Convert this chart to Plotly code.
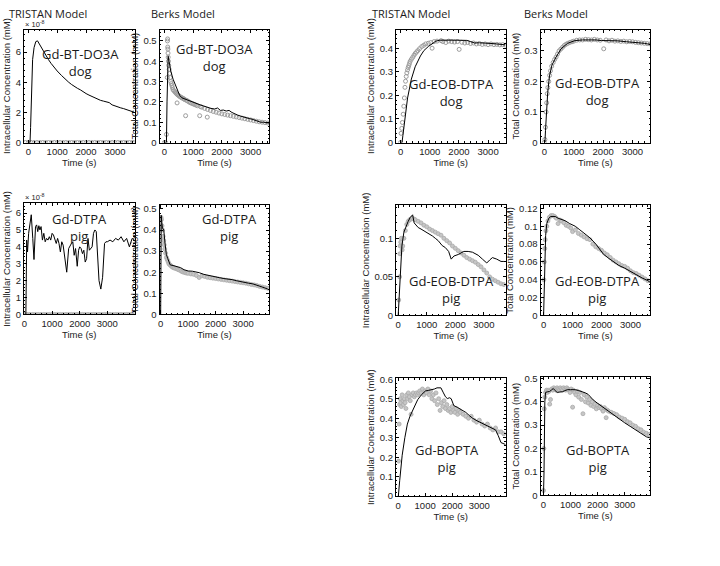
import plotly.graph_objects as go

# ---------------- DATA ----------------
# Panel A: TRISTAN, Gd-BT-DO3A dog (values in units of 1e-8 mM)
A_line_t = [0, 60, 80, 110, 150, 200, 260, 320, 380, 450, 520, 600, 700, 790, 900, 1000, 1150, 1300, 1400, 1500, 1600, 1700, 1800, 1900, 2000, 2100, 2200, 2300, 2400, 2500, 2600, 2700, 2800, 2900, 3000, 3100, 3200, 3300, 3400, 3500, 3600, 3650]
A_line_v = [0, 0, 1.0, 3.5, 5.5, 6.3, 6.7, 6.75, 6.55, 6.25, 6.05, 5.8, 5.5, 5.25, 4.95, 4.75, 4.45, 4.15, 4.0, 3.85, 3.7, 3.6, 3.5, 3.35, 3.25, 3.15, 3.05, 2.95, 2.87, 2.8, 2.75, 2.72, 2.65, 2.5, 2.42, 2.35, 2.3, 2.25, 2.18, 2.12, 2.05, 2.02]
A_obs_t = [-100, 0, 100, 200, 300, 400, 500, 600, 700, 800, 900, 1000, 1100, 1200, 1300, 1400, 1500, 1600, 1700, 1800, 1900, 2000, 2100, 2200, 2300, 2400, 2500, 2600, 2700, 2800, 2900, 3000, 3100, 3200, 3300, 3400, 3500, 3600, 3650]
A_obs_v = [0] * len(A_obs_t)

# Panel B: Berks, Gd-BT-DO3A dog
B_line_t = [0, 70, 90, 110, 130, 160, 220, 300, 440, 530, 610, 700, 830, 950, 1100, 1250, 1360, 1500, 1620, 1750, 1850, 1950, 2050, 2150, 2250, 2350, 2450, 2550, 2650, 2750, 2850, 2950, 3050, 3150, 3250, 3350, 3450, 3550, 3650]
B_line_v = [0, 0, 0.2, 0.38, 0.425, 0.40, 0.352, 0.312, 0.259, 0.232, 0.22, 0.215, 0.205, 0.2, 0.192, 0.185, 0.18, 0.172, 0.168, 0.165, 0.17, 0.158, 0.16, 0.155, 0.158, 0.148, 0.14, 0.135, 0.13, 0.125, 0.12, 0.118, 0.115, 0.11, 0.105, 0.10, 0.10, 0.098, 0.095]
B_obs_t = [0, 40, 70, 100, 105, 110, 115, 120, 125, 130, 140, 150, 165, 180, 200, 220, 240, 260, 280, 300, 330, 360, 390, 420, 440, 460, 490, 520, 550, 580, 610, 640, 670, 700, 737, 760, 800, 850, 900, 950, 1000, 1050, 1100, 1150, 1228, 1250, 1300, 1400, 1491, 1500, 1600, 1700, 1800, 1900, 2000, 2100, 2200, 2300, 2400, 2500, 2600, 2700, 2800, 2900, 3000, 3100, 3200, 3300, 3400, 3500, 3600]
B_obs_v = [0.0, 0.0, 0.04, 0.32, 0.5, 0.51, 0.47, 0.46, 0.44, 0.42, 0.4, 0.38, 0.36, 0.34, 0.32, 0.3, 0.29, 0.28, 0.27, 0.26, 0.255, 0.25, 0.245, 0.24, 0.195, 0.235, 0.232, 0.228, 0.225, 0.222, 0.22, 0.218, 0.215, 0.212, 0.132, 0.208, 0.205, 0.2, 0.196, 0.193, 0.19, 0.187, 0.184, 0.181, 0.132, 0.177, 0.174, 0.168, 0.125, 0.163, 0.158, 0.153, 0.149, 0.145, 0.141, 0.138, 0.135, 0.132, 0.129, 0.126, 0.123, 0.12, 0.117, 0.114, 0.111, 0.108, 0.105, 0.102, 0.1, 0.098, 0.096]

# Panel C: TRISTAN, Gd-EOB-DTPA dog
C_line_t = [0, 50, 80, 150, 240, 370, 500, 680, 800, 950, 1100, 1210, 1350, 1480, 1700, 1900, 2100, 2270, 2400, 2540, 2700, 2900, 3100, 3300, 3500, 3600]
C_line_v = [0, 0, 0.03, 0.097, 0.189, 0.269, 0.321, 0.367, 0.39, 0.407, 0.422, 0.43, 0.434, 0.435, 0.434, 0.434, 0.433, 0.433, 0.428, 0.422, 0.423, 0.42, 0.42, 0.418, 0.415, 0.414]
C_obs_t = [0, 18, 40, 62, 90, 110, 130, 150, 170, 194, 215, 239, 260, 283, 305, 327, 370, 415, 460, 504, 550, 593, 650, 725, 790, 858, 950, 1035, 1080, 1150, 1250, 1389, 1450, 1550, 1650, 1750, 1850, 1950, 2008, 2100, 2200, 2300, 2400, 2500, 2600, 2700, 2800, 2900, 3000, 3100, 3200, 3300, 3400, 3500, 3600]
C_obs_v = [0.0, 0.039, 0.06, 0.085, 0.12, 0.154, 0.189, 0.234, 0.26, 0.28, 0.295, 0.308, 0.318, 0.326, 0.335, 0.344, 0.353, 0.361, 0.37, 0.378, 0.384, 0.39, 0.398, 0.407, 0.412, 0.418, 0.421, 0.424, 0.4, 0.428, 0.43, 0.432, 0.428, 0.424, 0.43, 0.428, 0.426, 0.428, 0.395, 0.425, 0.422, 0.424, 0.42, 0.422, 0.418, 0.42, 0.416, 0.418, 0.415, 0.418, 0.415, 0.416, 0.414, 0.415, 0.413]

# Panel D: Berks, Gd-EOB-DTPA dog
D_line_t = [0, 20, 40, 70, 115, 175, 260, 400, 570, 790, 1050, 1300, 1500, 1750, 1950, 2200, 2500, 2800, 3000, 3200, 3400, 3500, 3600]
D_line_v = [0, 0, 0.04, 0.093, 0.164, 0.218, 0.254, 0.28, 0.307, 0.325, 0.334, 0.336, 0.337, 0.336, 0.334, 0.334, 0.333, 0.33, 0.329, 0.327, 0.325, 0.323, 0.322]
D_obs_t = [0, 20, 40, 60, 80, 100, 120, 150, 180, 210, 250, 300, 350, 400, 450, 500, 560, 620, 680, 740, 800, 870, 940, 1000, 1100, 1200, 1300, 1400, 1500, 1600, 1700, 1800, 1900, 2020, 2100, 2200, 2300, 2400, 2500, 2600, 2700, 2800, 2900, 3000, 3100, 3200, 3300, 3400, 3500, 3600]
D_obs_v = [0.0, 0.01, 0.05, 0.1, 0.13, 0.16, 0.18, 0.2, 0.22, 0.235, 0.25, 0.262, 0.272, 0.28, 0.29, 0.3, 0.306, 0.312, 0.318, 0.322, 0.325, 0.328, 0.33, 0.332, 0.335, 0.336, 0.336, 0.338, 0.337, 0.336, 0.338, 0.336, 0.335, 0.307, 0.336, 0.333, 0.335, 0.332, 0.333, 0.331, 0.332, 0.33, 0.331, 0.33, 0.328, 0.327, 0.326, 0.325, 0.324, 0.323]

# Panel E: TRISTAN, Gd-DTPA pig (units of 1e-8 mM)
E_line_t = [0, 50, 80, 110, 150, 245, 300, 344, 400, 440, 480, 520, 560, 600, 650, 700, 750, 800, 850, 900, 950, 1000, 1050, 1100, 1150, 1200, 1250, 1300, 1350, 1400, 1450, 1530, 1600, 1650, 1700, 1750, 1800, 1850, 1910, 1960, 2000, 2050, 2100, 2150, 2200, 2250, 2300, 2350, 2400, 2450, 2500, 2550, 2600, 2650, 2700, 2765, 2830, 2900, 2950, 3000, 3100, 3200, 3300, 3400, 3500, 3600, 3700, 3800, 3900, 3990]
E_line_v = [0, 0, 4.4, 3.7, 4.8, 5.9, 4.5, 3.25, 5.2, 5.3, 4.9, 5.25, 5.0, 5.2, 4.4, 4.8, 4.3, 4.5, 4.4, 4.6, 4.4, 4.8, 4.7, 4.4, 4.2, 4.5, 4.2, 3.7, 4.3, 4.1, 3.5, 2.5, 3.9, 4.1, 4.2, 4.3, 3.5, 3.9, 2.85, 3.8, 4.0, 3.9, 3.6, 3.8, 3.1, 3.3, 4.5, 3.8, 3.9, 4.0, 4.8, 5.0, 4.9, 3.5, 2.0, 1.5, 2.2, 4.2, 4.3, 4.3, 4.4, 4.3, 4.5, 4.4, 4.6, 4.3, 4.5, 4.0, 4.5, 4.4]
E_obs_t = [-20, 0, 100, 200, 300, 400, 500, 600, 700, 800, 900, 1000, 1100, 1200, 1300, 1400, 1500, 1600, 1700, 1800, 1900, 2000, 2100, 2200, 2300, 2400, 2500, 2600, 2700, 2800, 2900, 3000, 3100, 3200, 3300, 3400, 3500, 3600, 3700, 3800, 3900, 3990]
E_obs_v = [0] * len(E_obs_t)

# Panel F: Berks, Gd-DTPA pig
F_line_t = [0, 10, 20, 40, 65, 113, 160, 206, 254, 347, 450, 535, 620, 723, 850, 1005, 1150, 1287, 1400, 1569, 1700, 1850, 2000, 2150, 2300, 2450, 2600, 2750, 2900, 3050, 3200, 3350, 3500, 3650, 3800, 3900]
F_line_v = [0, 0.3, 0.47, 0.44, 0.41, 0.40, 0.336, 0.285, 0.266, 0.235, 0.232, 0.229, 0.225, 0.222, 0.212, 0.206, 0.205, 0.203, 0.198, 0.19, 0.186, 0.18, 0.176, 0.174, 0.17, 0.168, 0.165, 0.16, 0.155, 0.152, 0.148, 0.145, 0.14, 0.132, 0.125, 0.12]
F_obs_t = [0, 15, 30, 50, 70, 90, 110, 130, 150, 180, 210, 240, 270, 300, 340, 380, 420, 460, 500, 550, 600, 650, 700, 750, 800, 850, 900, 950, 1000, 1100, 1200, 1300, 1400, 1500, 1600, 1700, 1800, 1900, 2000, 2100, 2200, 2300, 2400, 2500, 2600, 2700, 2800, 2900, 3000, 3100, 3200, 3300, 3400, 3500, 3600, 3700, 3800, 3900]
F_obs_v = [0.4, 0.46, 0.45, 0.42, 0.4, 0.37, 0.35, 0.33, 0.31, 0.29, 0.27, 0.26, 0.25, 0.24, 0.235, 0.23, 0.225, 0.222, 0.22, 0.218, 0.215, 0.212, 0.21, 0.205, 0.202, 0.2, 0.198, 0.196, 0.195, 0.192, 0.19, 0.185, 0.175, 0.183, 0.18, 0.176, 0.174, 0.172, 0.17, 0.168, 0.166, 0.164, 0.162, 0.16, 0.158, 0.156, 0.154, 0.152, 0.15, 0.148, 0.145, 0.142, 0.14, 0.137, 0.133, 0.13, 0.127, 0.124]

# Panel G: TRISTAN, Gd-EOB-DTPA pig
G_line_t = [0, 30, 80, 130, 200, 280, 350, 420, 505, 560, 620, 700, 800, 900, 1000, 1100, 1200, 1300, 1400, 1540, 1650, 1766, 1856, 1950, 2100, 2297, 2450, 2600, 2800, 2950, 3027, 3100, 3207, 3300, 3450, 3600, 3700]
G_line_v = [0, 0.02, 0.06, 0.09, 0.108, 0.117, 0.122, 0.127, 0.1305, 0.12, 0.117, 0.114, 0.112, 0.11, 0.108, 0.105, 0.103, 0.1, 0.097, 0.0906, 0.088, 0.083, 0.073, 0.077, 0.079, 0.083, 0.083, 0.082, 0.078, 0.073, 0.07, 0.068, 0.072, 0.075, 0.073, 0.07, 0.07]
G_obs_t = [20, 50, 60, 70, 90, 110, 140, 160, 200, 250, 300, 350, 400, 450, 500, 550, 600, 700, 800, 900, 1000, 1100, 1200, 1300, 1400, 1500, 1600, 1700, 1800, 1900, 2000, 2100, 2200, 2300, 2400, 2500, 2600, 2700, 2800, 2900, 3000, 3100, 3200, 3300, 3400, 3500, 3600, 3700]
G_obs_v = [0.02, 0.05, 0.08, 0.09, 0.095, 0.1, 0.085, 0.09, 0.1, 0.11, 0.118, 0.122, 0.124, 0.125, 0.126, 0.125, 0.124, 0.122, 0.12, 0.117, 0.115, 0.112, 0.11, 0.108, 0.106, 0.104, 0.1, 0.097, 0.094, 0.09, 0.087, 0.084, 0.081, 0.078, 0.075, 0.073, 0.071, 0.069, 0.066, 0.063, 0.059, 0.055, 0.05, 0.047, 0.045, 0.043, 0.041, 0.04]

# Panel H: Berks, Gd-EOB-DTPA pig
H_line_t = [0, 20, 40, 70, 110, 180, 250, 400, 500, 738, 900, 1093, 1250, 1449, 1600, 1804, 1950, 2071, 2250, 2427, 2600, 2800, 3000, 3200, 3400, 3600, 3680]
H_line_v = [0, 0.04, 0.0624, 0.0895, 0.103, 0.109, 0.111, 0.111, 0.109, 0.1063, 0.103, 0.1, 0.096, 0.091, 0.087, 0.08, 0.074, 0.0685, 0.064, 0.0595, 0.056, 0.053, 0.049, 0.046, 0.042, 0.039, 0.037]
H_obs_t = [10, 25, 40, 55, 80, 110, 150, 200, 260, 320, 380, 440, 500, 560, 620, 700, 780, 860, 940, 1000, 1100, 1200, 1300, 1400, 1500, 1600, 1700, 1800, 1900, 2000, 2100, 2200, 2300, 2400, 2500, 2600, 2700, 2800, 2900, 3000, 3100, 3200, 3300, 3400, 3500, 3600]
H_obs_v = [0.04, 0.06, 0.075, 0.085, 0.095, 0.1, 0.106, 0.11, 0.112, 0.112, 0.111, 0.109, 0.103, 0.107, 0.106, 0.104, 0.101, 0.1, 0.098, 0.094, 0.096, 0.092, 0.09, 0.088, 0.086, 0.085, 0.08, 0.077, 0.075, 0.073, 0.07, 0.068, 0.065, 0.062, 0.06, 0.058, 0.056, 0.055, 0.053, 0.05, 0.048, 0.047, 0.045, 0.043, 0.041, 0.039]

# Panel I: TRISTAN, Gd-BOPTA pig
I_line_t = [0, 10, 60, 152, 250, 343, 440, 533, 630, 724, 860, 1010, 1130, 1248, 1340, 1438, 1581, 1676, 1750, 1819, 1900, 1962, 2057, 2200, 2343, 2500, 2628, 2750, 2914, 3050, 3200, 3350, 3486, 3600, 3700, 3800, 3970]
I_line_v = [0, 0, 0.08, 0.21, 0.3, 0.37, 0.41, 0.44, 0.47, 0.495, 0.52, 0.54, 0.543, 0.545, 0.55, 0.556, 0.556, 0.53, 0.51, 0.501, 0.505, 0.5, 0.465, 0.455, 0.443, 0.43, 0.414, 0.4, 0.387, 0.378, 0.37, 0.36, 0.349, 0.34, 0.31, 0.275, 0.265]
I_obs_t = [20, 40, 60, 80, 100, 120, 150, 180, 200, 230, 260, 290, 320, 350, 380, 420, 450, 480, 520, 560, 600, 640, 680, 720, 760, 800, 850, 900, 950, 1000, 1050, 1100, 1150, 1200, 1250, 1300, 1350, 1400, 1450, 1500, 1550, 1600, 1650, 1700, 1750, 1800, 1850, 1900, 1950, 2000, 2050, 2100, 2150, 2200, 2250, 2300, 2400, 2500, 2600, 2700, 2800, 2900, 3000, 3100, 3200, 3300, 3400, 3500, 3600, 3700, 3800, 3900]
I_obs_v = [0.18, 0.37, 0.47, 0.5, 0.48, 0.46, 0.52, 0.49, 0.47, 0.5, 0.48, 0.45, 0.52, 0.5, 0.53, 0.51, 0.49, 0.42, 0.52, 0.53, 0.51, 0.52, 0.53, 0.52, 0.53, 0.54, 0.53, 0.55, 0.52, 0.54, 0.53, 0.55, 0.52, 0.54, 0.5, 0.52, 0.49, 0.53, 0.47, 0.5, 0.44, 0.48, 0.46, 0.49, 0.45, 0.47, 0.44, 0.45, 0.43, 0.46, 0.44, 0.43, 0.45, 0.42, 0.44, 0.43, 0.42, 0.41, 0.4, 0.41, 0.39, 0.38, 0.39, 0.37, 0.36, 0.37, 0.35, 0.34, 0.35, 0.33, 0.33, 0.32]

# Panel J: Berks, Gd-BOPTA pig
J_line_t = [0, 20, 50, 76, 150, 219, 290, 362, 430, 505, 600, 695, 790, 886, 1000, 1171, 1300, 1457, 1550, 1648, 1740, 1838, 1980, 2124, 2270, 2410, 2600, 2800, 3000, 3200, 3400, 3600, 3800, 3940]
J_line_v = [0, 0.1, 0.4, 0.44, 0.443, 0.444, 0.45, 0.457, 0.448, 0.44, 0.442, 0.443, 0.448, 0.452, 0.452, 0.452, 0.448, 0.443, 0.438, 0.432, 0.42, 0.408, 0.395, 0.383, 0.37, 0.359, 0.34, 0.325, 0.31, 0.295, 0.28, 0.265, 0.25, 0.245]
J_obs_t = [0, 15, 30, 50, 80, 110, 140, 170, 200, 230, 260, 300, 340, 380, 420, 460, 500, 540, 580, 620, 660, 700, 740, 780, 820, 860, 900, 940, 980, 1020, 1076, 1100, 1150, 1200, 1250, 1300, 1350, 1400, 1457, 1500, 1550, 1600, 1650, 1700, 1750, 1800, 1850, 1900, 1950, 2000, 2050, 2100, 2150, 2200, 2250, 2314, 2350, 2400, 2500, 2600, 2700, 2800, 2900, 3000, 3100, 3200, 3300, 3400, 3500, 3600, 3700, 3800, 3900]
J_obs_v = [0.02, 0.2, 0.37, 0.42, 0.44, 0.45, 0.44, 0.45, 0.445, 0.39, 0.41, 0.455, 0.45, 0.46, 0.455, 0.45, 0.46, 0.455, 0.45, 0.46, 0.455, 0.45, 0.46, 0.455, 0.45, 0.46, 0.455, 0.45, 0.44, 0.455, 0.377, 0.45, 0.44, 0.43, 0.445, 0.42, 0.44, 0.41, 0.349, 0.43, 0.4, 0.42, 0.395, 0.41, 0.385, 0.4, 0.38, 0.39, 0.37, 0.385, 0.375, 0.38, 0.37, 0.36, 0.375, 0.332, 0.365, 0.36, 0.355, 0.35, 0.345, 0.335, 0.33, 0.325, 0.315, 0.31, 0.3, 0.295, 0.285, 0.28, 0.27, 0.265, 0.26]

column_titles = ["TRISTAN Model", "Berks Model", "TRISTAN Model", "Berks Model"]
intra_title = "Intracellular Concentration (mM)"
total_title = "Total Concentration (mM)"
time_title = "Time (s)"

# ---------------- LAYOUT ----------------
W, H = 720, 566
# pixel boxes (left, right, top, bottom)
panels = [
    dict(box=(22, 133, 25, 140), lt=A_line_t, lv=A_line_v, ot=A_obs_t, ov=A_obs_v, xr=[-150, 3680], yr=[0, 7.5], dy=2, my=0.4, yt=intra_title, lab="Gd-BT-DO3A<br>dog", lxy=(79, 59), exp=True, open=True),
    dict(box=(158, 268, 25, 140), lt=B_line_t, lv=B_line_v, ot=B_obs_t, ov=B_obs_v, xr=[-170, 3650], yr=[0, 0.556], dy=0.1, my=0.02, yt=total_title, lab="Gd-BT-DO3A<br>dog", lxy=(213, 53), exp=False, open=True),
    dict(box=(395, 505, 25, 140), lt=C_line_t, lv=C_line_v, ot=C_obs_t, ov=C_obs_v, xr=[-160, 3600], yr=[0, 0.479], dy=0.1, my=0.02, yt=intra_title, lab="Gd-EOB-DTPA<br>dog", lxy=(451, 89), exp=False, open=True),
    dict(box=(540, 650, 25, 140), lt=D_line_t, lv=D_line_v, ot=D_obs_t, ov=D_obs_v, xr=[-130, 3600], yr=[0, 0.37], dy=0.1, my=0.02, yt=total_title, lab="Gd-EOB-DTPA<br>dog", lxy=(597, 88), exp=False, open=True),
    dict(box=(22, 133, 202, 315), lt=E_line_t, lv=E_line_v, ot=E_obs_t, ov=E_obs_v, xr=[-20, 3990], yr=[0, 6.57], dy=1, my=0.2, yt=intra_title, lab="Gd-DTPA<br>pig", lxy=(78, 226), exp=True, open=False),
    dict(box=(158, 268, 204, 315), lt=F_line_t, lv=F_line_v, ot=F_obs_t, ov=F_obs_v, xr=[-40, 3950], yr=[0, 0.517], dy=0.1, my=0.02, yt=total_title, lab="Gd-DTPA<br>pig", lxy=(228, 226), exp=False, open=False),
    dict(box=(395, 505, 204, 316), lt=G_line_t, lv=G_line_v, ot=G_obs_t, ov=G_obs_v, xr=[-80, 3760], yr=[0, 0.1427], dy=0.05, my=0.01, yt=intra_title, lab="Gd-EOB-DTPA<br>pig", lxy=(451, 290), exp=False, open=False),
    dict(box=(540, 650, 204, 316), lt=H_line_t, lv=H_line_v, ot=H_obs_t, ov=H_obs_v, xr=[-107, 3680], yr=[0, 0.1234], dy=0.02, my=0.005, yt=total_title, lab="Gd-EOB-DTPA<br>pig", lxy=(597, 290), exp=False, open=False),
    dict(box=(395, 505, 380, 500), lt=I_line_t, lv=I_line_v, ot=I_obs_t, ov=I_obs_v, xr=[-80, 3970], yr=[0, 0.605], dy=0.1, my=0.02, yt=intra_title, lab="Gd-BOPTA<br>pig", lxy=(446, 462), exp=False, open=False),
    dict(box=(540, 650, 379, 499), lt=J_line_t, lv=J_line_v, ot=J_obs_t, ov=J_obs_v, xr=[-110, 3940], yr=[0, 0.505], dy=0.1, my=0.02, yt=total_title, lab="Gd-BOPTA<br>pig", lxy=(598, 462), exp=False, open=False),
]

TICKFONT = dict(family="Liberation Sans, Arial", size=9.5, color="#222")
TITLEFONT = dict(family="Liberation Sans, Arial", size=9.5, color="#222")
LABFONT = dict(family="Open Sans", size=13, color="#1a1a1a")

fig = go.Figure()
layout = dict(width=W, height=H, margin=dict(l=0, r=0, t=0, b=0),
              paper_bgcolor="white", plot_bgcolor="white", showlegend=False)
annotations = []

for i, p in enumerate(panels):
    n = i + 1
    xa = "x" if n == 1 else f"x{n}"
    ya = "y" if n == 1 else f"y{n}"
    l, r, t, b = p["box"]
    if p["open"]:
        mk = dict(symbol="circle-open", size=4, color="#9c9c9c", line=dict(width=1, color="#9c9c9c"))
    else:
        mk = dict(symbol="circle", size=4, color="#c6c6c6", line=dict(width=0.8, color="#aaaaaa"))
    fig.add_trace(go.Scatter(x=p["ot"], y=p["ov"], mode="markers", marker=mk,
                             xaxis=xa, yaxis=ya, hoverinfo="skip", cliponaxis=True))
    fig.add_trace(go.Scatter(x=p["lt"], y=p["lv"], mode="lines",
                             line=dict(color="black", width=1),
                             xaxis=xa, yaxis=ya, hoverinfo="skip"))
    common = dict(showline=True, linecolor="black", linewidth=1, mirror="allticks",
                  ticks="inside", ticklen=3, tickwidth=1, tickcolor="black",
                  showgrid=False, zeroline=False, tickfont=TICKFONT, fixedrange=True)
    layout["xaxis" if n == 1 else f"xaxis{n}"] = dict(
        domain=[l / W, r / W], range=p["xr"], anchor=ya, dtick=1000, tick0=0,
        title=dict(text=time_title, font=TITLEFONT, standoff=2),
        minor=dict(ticks="inside", ticklen=1.5, dtick=200, tick0=0, tickcolor="black", showgrid=False),
        **common)
    layout["yaxis" if n == 1 else f"yaxis{n}"] = dict(
        domain=[1 - b / H, 1 - t / H], range=p["yr"], anchor=xa, dtick=p["dy"], tick0=0,
        title=dict(text=p["yt"], font=TITLEFONT, standoff=3),
        minor=dict(ticks="inside", ticklen=1.5, dtick=p["my"], tick0=0, tickcolor="black", showgrid=False),
        **common)
    lx, ly = p["lxy"]
    annotations.append(dict(x=lx / W, y=1 - ly / H, xref="paper", yref="paper",
                            text=p["lab"], showarrow=False, font=LABFONT,
                            xanchor="center", yanchor="middle", align="center"))
    if p["exp"]:
        annotations.append(dict(x=l / W, y=1 - t / H, xref="paper", yref="paper",
                                text="× 10<sup>-8</sup>", showarrow=False, borderpad=0,
                                font=dict(family="Liberation Sans, Arial", size=7.5, color="#222"),
                                xanchor="left", yanchor="bottom"))

# column titles
col_centers = [46, 182, 410, 556]
for c, txt in zip(col_centers, column_titles):
    annotations.append(dict(x=c / W, y=1, xref="paper", yref="paper", text=txt,
                            showarrow=False, borderpad=0,
                            font=dict(family="Open Sans", size=11, color="#1a1a1a"),
                            xanchor="center", yanchor="top"))

layout["annotations"] = annotations
fig.update_layout(**layout)
fig.write_html("out.html")
